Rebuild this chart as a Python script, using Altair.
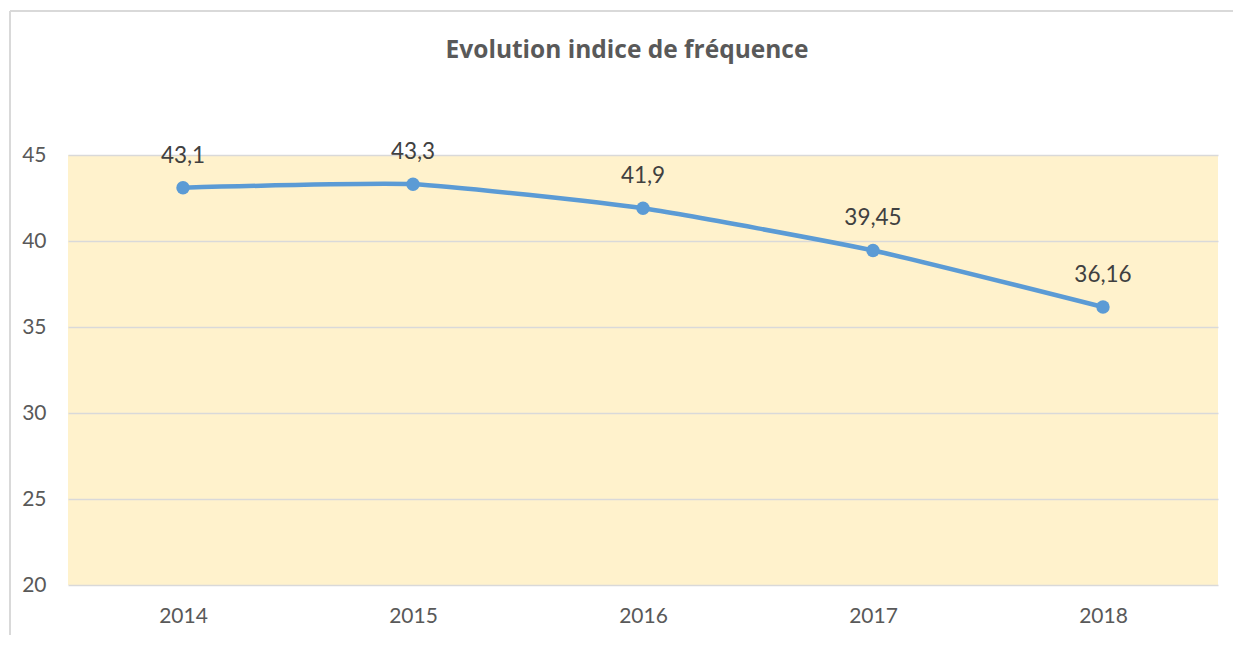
import altair as alt
import pandas as pd

years = ["2014", "2015", "2016", "2017", "2018"]
values = [43.1, 43.3, 41.9, 39.45, 36.16]
labels = ["43,1", "43,3", "41,9", "39,45", "36,16"]
title_text = "Evolution indice de fréquence"

df = pd.DataFrame({"year": years, "value": values, "label": labels})

FONT = "Lato"
base = alt.Chart(df).encode(
    x=alt.X("year:N", sort=years, title=None,
            scale=alt.Scale(paddingInner=0, paddingOuter=0),
            axis=alt.Axis(labelAngle=0, ticks=False, domain=False, grid=False,
                          labelFontSize=21, labelColor="#595959", labelFont=FONT,
                          labelPadding=20)),
    y=alt.Y("value:Q", title=None,
            scale=alt.Scale(domain=[20, 45], nice=False, zero=False),
            axis=alt.Axis(values=[20, 25, 30, 35, 40, 45], ticks=False, domain=False,
                          gridColor="#D9D9D9", gridWidth=1.5,
                          labelFontSize=21, labelColor="#595959", labelFont=FONT,
                          labelPadding=22)),
)

line = base.mark_line(color="#5B9BD5", strokeWidth=4.5, interpolate="cardinal", tension=0.5)
pts = base.mark_point(filled=True, color="#5B9BD5", size=180, opacity=1)
txt = base.mark_text(dy=-32, fontSize=22.5, color="#404040", font=FONT).encode(text="label:N")

frame_df = pd.DataFrame({"t": [title_text]})
left_border = alt.Chart(frame_df).mark_rule(color="#D9D9D9", strokeWidth=2).encode(
    x=alt.value(-58), y=alt.value(-144), y2=alt.value(500))
top_border = alt.Chart(frame_df).mark_rule(color="#D9D9D9", strokeWidth=2).encode(
    x=alt.value(-58), x2=alt.value(1180), y=alt.value(-144))
title = alt.Chart(frame_df).mark_text(
    fontSize=24.5, font="Open Sans", fontWeight="bold", color="#595959", baseline="middle"
).encode(x=alt.value(559), y=alt.value(-104), text="t:N")

chart = alt.layer(left_border, top_border, line, pts, txt, title).properties(
    width=1150, height=430,
    autosize=alt.AutoSizeParams(type="none"),
    padding={"left": 60, "top": 147, "right": 15, "bottom": 50},
).configure_view(fill="#FFF2CC", stroke=None)

chart.save("out.html", embed_options={"renderer": "svg", "actions": False})
